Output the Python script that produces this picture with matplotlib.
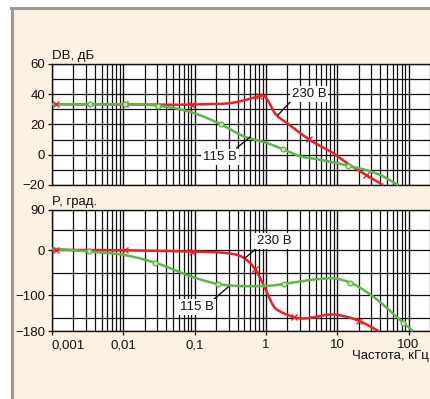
import numpy as np
import matplotlib
matplotlib.use("Agg")
import matplotlib.pyplot as plt
from matplotlib.patches import Rectangle
from matplotlib.ticker import NullFormatter, LogLocator

plt.rcParams['font.family'] = ['Liberation Sans Narrow', 'Liberation Sans', 'DejaVu Sans']

# ---- data ----
f_mag_230 = [0.001, 0.00115, 0.0105, 0.093, 0.3, 0.5, 0.7, 0.8, 0.92, 1.4, 2.0, 4.0, 8.8, 13.5, 25, 44]
mag_230   = [33.4, 33.4, 33.3, 33.2, 34.0, 36.0, 38.0, 38.6, 39.0, 26.3, 20.8, 10.2, 1.0, -5.3, -13.2, -20]
mk_mag_230 = [0.00115, 0.0105, 0.093, 0.8, 4.0, 25]

f_mag_115 = [0.001, 0.0034, 0.0105, 0.031, 0.1, 0.234, 0.5, 1.0, 1.75, 3.0, 5.0, 10, 14, 25, 40, 72]
mag_115   = [33.4, 33.4, 33.3, 32.4, 27.4, 20.1, 12.0, 8.0, 3.6, -1.0, -2.8, -5.6, -7.2, -10.0, -13.4, -20]
mk_mag_115 = [0.0034, 0.0105, 0.031, 0.234, 1.75, 14]

f_ph_230 = [0.001, 0.00115, 0.0105, 0.093, 0.3, 0.5, 0.7, 0.9, 1.0, 1.3, 1.6, 2.0, 2.5, 10, 20, 38]
ph_230   = [1, 1, 0, -3, -6.7, -18, -41, -73, -88.6, -126, -137, -144, -149.5, -144, -157, -180]
mk_ph_230 = [0.00115, 0.0105, 0.093, 0.7, 2.5, 20]

f_ph_115 = [0.001, 0.0033, 0.01, 0.028, 0.1, 0.21, 0.5, 1.0, 1.8, 5.0, 9.0, 15.2, 30, 84.5, 115]
ph_115   = [4, -2.5, -10, -27.6, -61, -75, -80, -79.6, -75, -64.8, -62.5, -72, -100, -161.6, -180]
mk_ph_115 = [0.0033, 0.028, 0.21, 1.8, 15.2, 84.5]

xticks = [0.001, 0.01, 0.1, 1, 10, 100]
xticklabels = ['0,001', '0,01', '0,1', '1', '10', '100']
mag_ticks = [60, 40, 20, 0, -20]
mag_grid = [60, 50, 40, 30, 20, 10, 0, -10, -20]
ph_ticks = [90, 0, -100, -180]
ph_grid = [90, 45, 0, -50, -100, -150, -180]

RED = '#E8212B'
GREEN = '#5BB846'
CREAM = '#FDF1E3'

W, H = 430, 399
fig = plt.figure(figsize=(W / 100, H / 100), dpi=100)
fig.patch.set_facecolor('white')
fig.patches.append(Rectangle((12 / W, 0), 1, 1 - 9 / H, transform=fig.transFigure,
                             facecolor=CREAM, edgecolor='none', zorder=-10))
fig.add_artist(plt.Line2D([12 / W, 12 / W], [0, 1 - 8 / H], transform=fig.transFigure,
                          color='#9A9A9A', lw=2.2, zorder=-5))
fig.add_artist(plt.Line2D([11 / W, 1], [1 - 8 / H, 1 - 8 / H], transform=fig.transFigure,
                          color='#9A9A9A', lw=2.2, zorder=-5))

left_px = 52
right_px = 440
dec_px = 71.3
xmax = 10 ** (-3 + (right_px - left_px) / dec_px)
FS = 9.5


def make_ax(top_px, bot_px):
    ax = fig.add_axes([left_px / W, 1 - bot_px / H, (right_px - left_px) / W, (bot_px - top_px) / H])
    ax.set_zorder(1)
    ax.set_xscale('log')
    ax.set_xlim(0.001, xmax)
    ax.set_facecolor('white')
    ax.xaxis.set_minor_locator(LogLocator(base=10, subs=np.arange(2, 10)))
    ax.xaxis.set_minor_formatter(NullFormatter())
    ax.grid(True, which='major', axis='x', color='#111111', lw=1.0)
    ax.grid(True, which='minor', axis='x', color='#111111', lw=0.9)
    for s in ax.spines.values():
        s.set_color('#111111')
        s.set_linewidth(1.0)
    ax.tick_params(axis='both', which='both', length=3, width=0.9, labelsize=FS, pad=2, colors='#111111')
    ax.tick_params(axis='x', which='minor', length=0)
    return ax


def add_hgrid(ax, levels):
    for lv in levels:
        ax.axhline(lv, color='#111111', lw=0.9, zorder=1)


def smooth(fx, fy):
    lx = np.log10(fx)
    fy = np.asarray(fy, float)
    xs = np.linspace(lx[0], lx[-1], 500)
    h = np.diff(lx)
    d = np.diff(fy) / h
    m = np.zeros(len(lx))
    m[0], m[-1] = d[0], d[-1]
    for i in range(1, len(lx) - 1):
        mi = (h[i] * d[i - 1] + h[i - 1] * d[i]) / (h[i - 1] + h[i])
        if d[i - 1] * d[i] > 0:
            lim = 3 * min(abs(d[i - 1]), abs(d[i]))
            mi = np.sign(mi) * min(abs(mi), lim)
        m[i] = mi
    ys = np.empty_like(xs)
    for j, x in enumerate(xs):
        i = min(np.searchsorted(lx, x, side='right') - 1, len(lx) - 2)
        i = max(i, 0)
        t = (x - lx[i]) / h[i]
        h00 = 2 * t**3 - 3 * t**2 + 1
        h10 = t**3 - 2 * t**2 + t
        h01 = -2 * t**3 + 3 * t**2
        h11 = t**3 - t**2
        ys[j] = h00 * fy[i] + h10 * h[i] * m[i] + h01 * fy[i + 1] + h11 * h[i] * m[i + 1]
    return 10 ** xs, ys


def draw(ax, fx, fy, mk, color, marker):
    xs, ys = smooth(fx, fy)
    ax.plot(xs, ys, color=color, lw=1.8, zorder=3, clip_on=False, solid_capstyle='butt')
    my = np.interp(np.log10(mk), np.log10(xs), ys)
    if marker == 'x':
        ax.plot(mk, my, ls='none', marker='x', ms=4, mew=1.0, color=color, zorder=4)
    else:
        ax.plot(mk, my, ls='none', marker='o', ms=3.5, mew=0.9, mfc='#C8E8BC', mec=color, zorder=4)


def callout(ax, text, xy_from, xy_to, text_xy):
    ax.plot([xy_from[0], xy_to[0]], [xy_from[1], xy_to[1]], color='#111111', lw=1.0, zorder=5)
    ax.text(text_xy[0], text_xy[1], text, ha='center', va='center', fontsize=FS, color='#111111',
            zorder=6, bbox=dict(boxstyle='square,pad=0.15', facecolor='white', edgecolor='none'))


# ---- magnitude ----
ax1 = make_ax(64, 185)
ax1.set_ylim(-20, 60)
ax1.set_yticks(mag_ticks)
add_hgrid(ax1, mag_grid)
ax1.set_xticks(xticks)
ax1.set_xticklabels([])
ax1.tick_params(axis='x', which='major', length=0)
draw(ax1, f_mag_230, mag_230, mk_mag_230, RED, 'x')
draw(ax1, f_mag_115, mag_115, mk_mag_115, GREEN, 'o')
callout(ax1, '230 В', (1.48, 26.3), (2.4, 36.9), (4.0, 40.2))
callout(ax1, '115 В', (0.39, 4.5), (0.6, 11.7), (0.227, -1.5))
ax1.text(0.0, 1.02, 'DB, дБ', transform=ax1.transAxes, fontsize=FS, ha='left', va='bottom', color='#111111')

# ---- phase ----
ax2 = make_ax(210, 331)
ax2.set_ylim(-180, 90)
ax2.set_yticks(ph_ticks)
add_hgrid(ax2, ph_grid)
ax2.set_xticks(xticks)
ax2.set_xticklabels(xticklabels)
ax2.get_xticklabels()[0].set_horizontalalignment('left')
ax2.tick_params(axis='x', which='major', length=3, pad=3)
draw(ax2, f_ph_230, ph_230, mk_ph_230, RED, 'x')
draw(ax2, f_ph_115, ph_115, mk_ph_115, GREEN, 'o')
callout(ax2, '230 В', (0.51, -17), (0.78, 7.4), (1.3, 20.8))
callout(ax2, '115 В', (0.18, -111), (0.295, -82), (0.108, -126.5))
ax2.text(0.0, 1.02, 'P, град.', transform=ax2.transAxes, fontsize=FS, ha='left', va='bottom', color='#111111')
fig.text(1 - 1 / W, 1 - 356 / H, 'Частота, кГц', fontsize=FS, ha='right', va='center', color='#111111')

fig.savefig('out.png', dpi=100, facecolor=fig.get_facecolor())
